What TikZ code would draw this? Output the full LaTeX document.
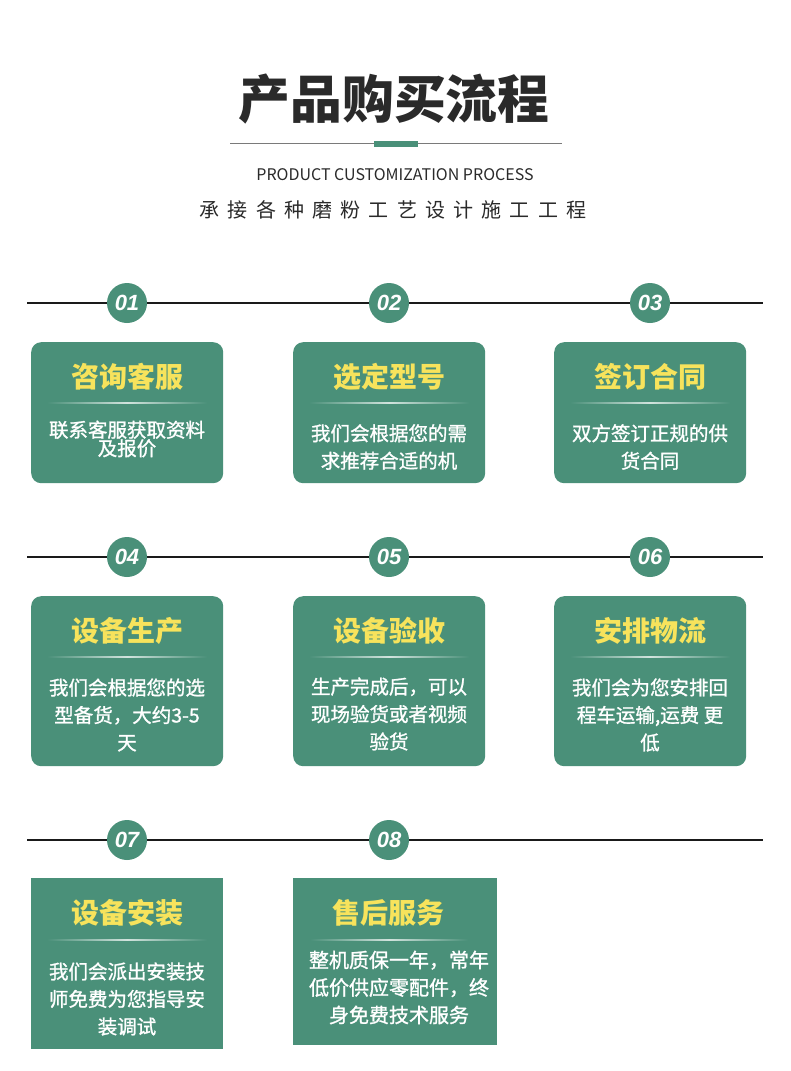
\documentclass[tikz,border=0pt]{standalone}
\usepackage{fontspec}
\setmainfont{Noto Sans CJK SC}
\newfontfamily\cjk{Noto Sans CJK SC}
\newfontfamily\cjkbody[FakeBold=1.2]{Noto Sans CJK SC}
\newfontfamily\cjksub[LetterSpace=41]{Noto Sans CJK SC}
\newfontfamily\numfont{Liberation Sans}
\definecolor{cardgreen}{HTML}{4A9079}
\definecolor{titleyellow}{HTML}{F7E35C}
\definecolor{darktext}{HTML}{2A2A2A}
\definecolor{rulegray}{HTML}{7A7A7A}
\definecolor{linecol}{HTML}{1A1A1A}
\tikzset{
  rowline/.style={line width=2.5pt, draw=linecol},
  numcircle/.style={circle, fill=cardgreen, minimum size=40pt, inner sep=0pt, text=white,
    font=\numfont\bfseries\itshape\fontsize{22}{22}\selectfont},
  card/.style={fill=cardgreen, draw=none, inner sep=0pt, anchor=north west},
  rcard/.style={card, rounded corners=10pt},
  ctitle/.style={text=titleyellow, font=\cjk\bfseries\fontsize{28}{30}\selectfont, inner sep=0pt},
  cbody/.style={text=white, font=\cjkbody\fontsize{19.5}{27.5}\selectfont, align=center, inner sep=0pt},
}
\newcommand{\cardline}[3]{% x1, x2, y
  \shade[left color=cardgreen, right color=white!75!cardgreen] (#1,#3-0.8) rectangle ({(#1+#2)/2},#3+0.8);
  \shade[left color=white!75!cardgreen, right color=cardgreen] ({(#1+#2)/2},#3-0.8) rectangle (#2,#3+0.8);
}
\begin{document}
\begin{tikzpicture}[x=1pt,y=-1pt]
\useasboundingbox (0,0) rectangle (790,1071);
\fill[white] (0,0) rectangle (790,1071);

% header
\node[text=darktext, font=\cjk\bfseries\fontsize{51.8}{56}\selectfont, inner sep=0pt] (title) at (394,99) {产品购买流程};
\coordinate (ruleL) at (230,143.5);
\coordinate (ruleR) at (562,143.5);
\draw[rulegray, line width=1.5pt] (ruleL) -- (ruleR);
\fill[cardgreen] (374,141) rectangle (418,147);
\node[text=darktext, font=\cjk\fontsize{16}{18}\selectfont, inner sep=0pt] (eng) at (395,175) {PRODUCT CUSTOMIZATION PROCESS};
\node[text=darktext, font=\cjksub\fontsize{20}{24}\selectfont, inner sep=0pt] (sub) at (393,210) {承接各种磨粉工艺设计施工工程};

% row lines
\coordinate (r1a) at (27,303); \coordinate (r1b) at (763,303);
\coordinate (r2a) at (27,557); \coordinate (r2b) at (763,557);
\coordinate (r3a) at (27,840); \coordinate (r3b) at (763,840);
\draw[rowline] (r1a) -- (r1b);
\draw[rowline] (r2a) -- (r2b);
\draw[rowline] (r3a) -- (r3b);

% number circles
\node[numcircle] (n1) at (127,303) {01};
\node[numcircle] (n2) at (389,303) {02};
\node[numcircle] (n3) at (650,303) {03};
\node[numcircle] (n4) at (127,557) {04};
\node[numcircle] (n5) at (389,557) {05};
\node[numcircle] (n6) at (650,557) {06};
\node[numcircle] (n7) at (127,840) {07};
\node[numcircle] (n8) at (389,840) {08};

% row 1 cards
\node[rcard, minimum width=192pt, minimum height=141pt] (c1) at (31,342) {};
\node[rcard, minimum width=192pt, minimum height=141pt] (c2) at (293,342) {};
\node[rcard, minimum width=192pt, minimum height=141pt] (c3) at (554,342) {};
\node[ctitle] (t1) at (127,377) {咨询客服};
\node[ctitle] (t2) at (389,377) {选定型号};
\node[ctitle] (t3) at (650,377) {签订合同};
\cardline{47}{207}{403}
\cardline{309}{469}{403}
\cardline{570}{730}{403}
\node[cbody, font=\cjkbody\fontsize{19.5}{18.5}\selectfont] (b1) at (127,439) {联系客服获取资料\\及报价};
\node[cbody] (b2) at (389,447) {我们会根据您的需\\求推荐合适的机};
\node[cbody] (b3) at (650,447) {双方签订正规的供\\货合同};

% row 2 cards
\node[rcard, minimum width=192pt, minimum height=170pt] (c4) at (31,596) {};
\node[rcard, minimum width=192pt, minimum height=170pt] (c5) at (293,596) {};
\node[rcard, minimum width=192pt, minimum height=170pt] (c6) at (554,596) {};
\node[ctitle] (t4) at (127,631) {设备生产};
\node[ctitle] (t5) at (389,631) {设备验收};
\node[ctitle] (t6) at (650,631) {安排物流};
\cardline{47}{207}{657}
\cardline{309}{469}{657}
\cardline{570}{730}{657}
\node[cbody] (b4) at (127,715) {我们会根据您的选\\型备货，大约3-5\\天};
\node[cbody] (b5) at (389,714) {生产完成后，可以\\现场验货或者视频\\验货};
\node[cbody] (b6) at (650,715) {我们会为您安排回\\程车运输,运费 更\\低};

% row 3 cards
\node[card, minimum width=192pt, minimum height=171pt] (c7) at (31,878) {};
\node[card, minimum width=204pt, minimum height=167pt] (c8) at (293,878) {};
\node[ctitle] (t7) at (127,913) {设备安装};
\node[ctitle] (t8) at (388,913) {售后服务};
\cardline{47}{207}{940}
\cardline{310}{468}{940}
\node[cbody] (b7) at (127,999) {我们会派出安装技\\师免费为您指导安\\装调试};
\node[cbody, font=\cjkbody\fontsize{20}{27.5}\selectfont] (b8) at (399,987.5) {整机质保一年，常年\\低价供应零配件，终\\身免费技术服务};
\end{tikzpicture}
\end{document}
